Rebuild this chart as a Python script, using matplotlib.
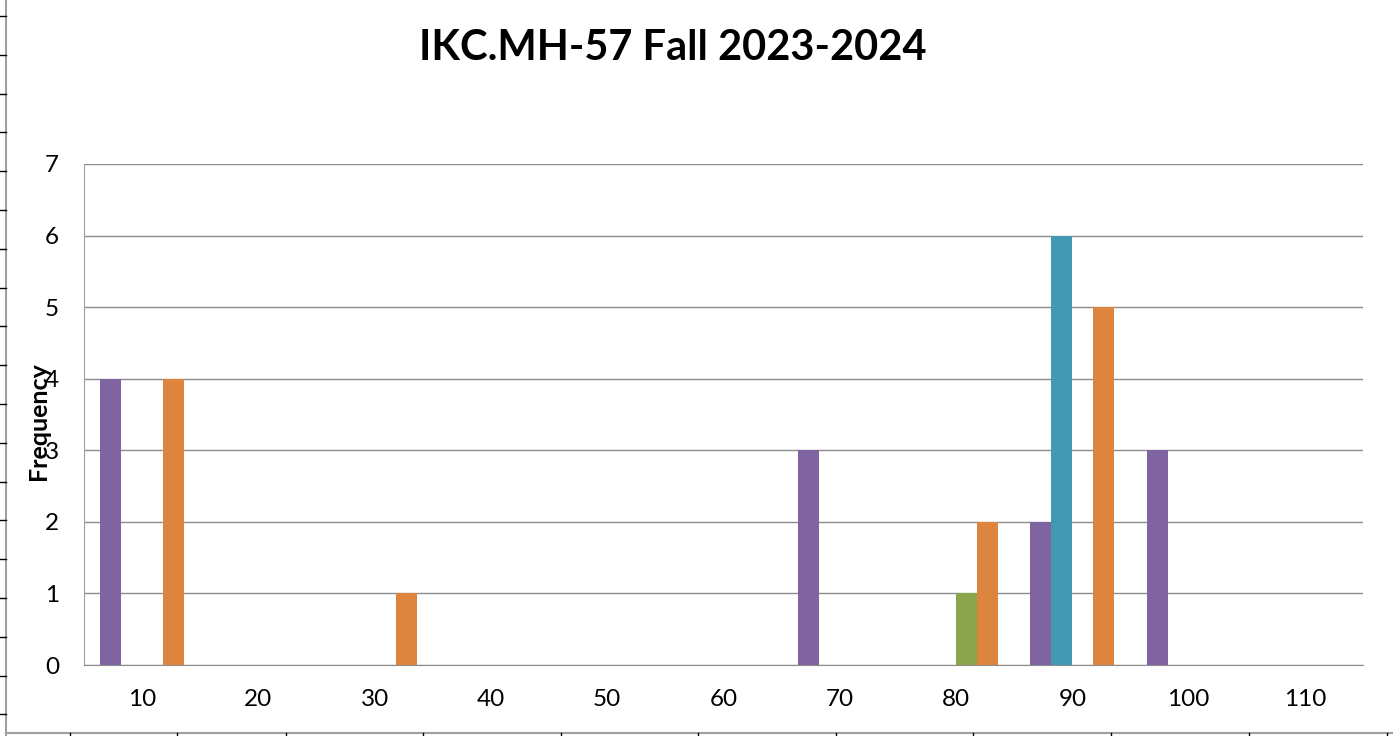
import matplotlib
matplotlib.use("Agg")
import matplotlib.pyplot as plt
from matplotlib.lines import Line2D
import numpy as np

# bins and the four series (frequency per bin)
bins = [10, 20, 30, 40, 50, 60, 70, 80, 90, 100, 110]
purple_vals = [4, 0, 0, 0, 0, 0, 3, 0, 2, 3, 0]
teal_vals = [0, 0, 0, 0, 0, 0, 0, 0, 6, 0, 0]
green_vals = [0, 0, 0, 0, 0, 0, 0, 1, 0, 0, 0]
orange_vals = [4, 0, 1, 0, 0, 0, 0, 2, 5, 0, 0]

series = [
    (purple_vals, "#8064A2"),
    (teal_vals, "#4399B1"),
    (green_vals, "#8BA54D"),
    (orange_vals, "#DD843E"),
]

plt.rcParams["font.family"] = ["Lato", "DejaVu Sans"]

fig = plt.figure(figsize=(13.93, 7.36), dpi=100)
ax = fig.add_axes([84 / 1393, 1 - 665 / 736, (1363 - 84) / 1393, (665 - 164) / 736])

x = np.arange(len(bins))
w = 0.18
for i, (vals, col) in enumerate(series):
    ax.bar(x + (i - 1.5) * w, vals, width=w, color=col, zorder=3)

ax.set_xlim(-0.5, len(bins) - 0.5)
ax.set_ylim(0, 7)
ax.set_xticks(x)
ax.set_xticklabels([str(b) for b in bins], fontsize=17.5)
ax.set_yticks(range(8))
ax.set_yticklabels([str(v) for v in range(8)], fontsize=17.5)
ax.tick_params(axis="x", length=0, pad=17)
ax.tick_params(axis="y", length=0, pad=18)
ax.grid(axis="y", color="#8c8c8c", linewidth=1, zorder=0)
for s in ["top", "right"]:
    ax.spines[s].set_visible(False)
ax.spines["left"].set_color("#a0a0a0")
ax.spines["bottom"].set_color("#8c8c8c")

fig.text(673 / 1393, 1 - 48 / 736, "IKC.MH-57 Fall 2023-2024", ha="center",
         va="center", fontsize=30, fontweight="bold")
fig.text(39 / 1393, 1 - 421 / 736, "Frequency", ha="center", va="center",
         rotation=90, fontsize=18, fontweight="bold")

# spreadsheet frame around the chart
fig.add_artist(Line2D([6 / 1393, 6 / 1393], [0, 1], color="#a0a0a0", lw=1.5))
fig.add_artist(Line2D([6 / 1393, 1], [3 / 736, 3 / 736], color="#a0a0a0", lw=1.5))
for yy in np.arange(16, 730, 38.8):
    fig.add_artist(Line2D([0, 6 / 1393], [1 - yy / 736] * 2, color="black", lw=1))
for xx in [70, 177, 286, 423, 561, 698, 836, 973, 1111, 1249, 1387]:
    fig.add_artist(Line2D([xx / 1393] * 2, [0, 3 / 736], color="black", lw=1))

fig.savefig("out.png", dpi=100)
